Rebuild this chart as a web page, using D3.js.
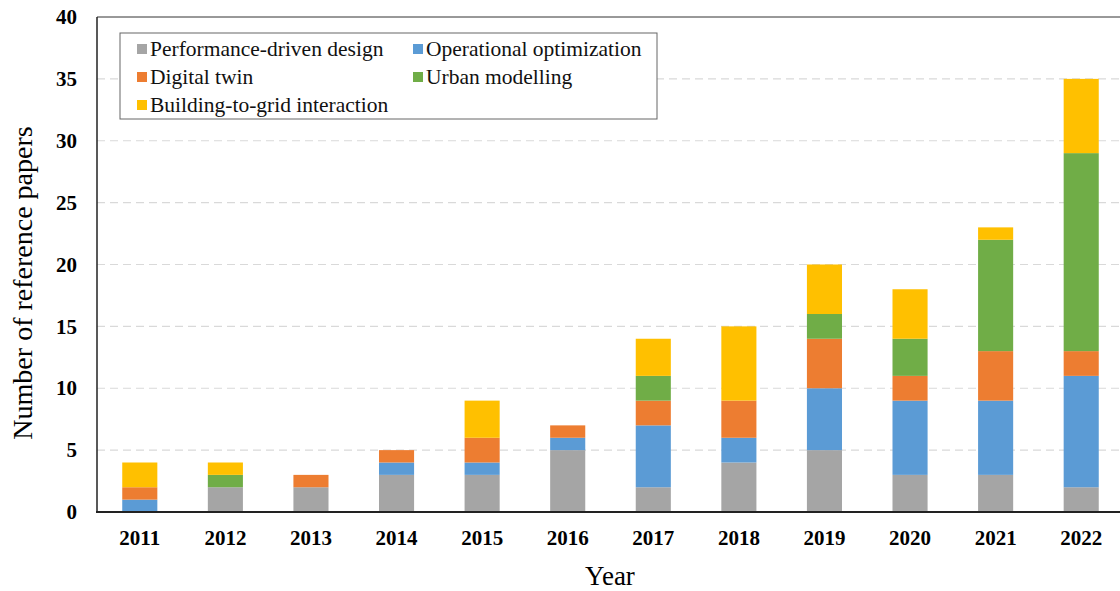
<!DOCTYPE html>
<html>
<head>
<meta charset="utf-8">
<script src="https://cdn.jsdelivr.net/npm/d3@7"></script>
<style>
  body { margin: 0; background: #fff; }
  svg text { font-family: "Liberation Serif", "Times New Roman", serif; }
</style>
</head>
<body>
<div id="chart"></div>
<script>
var years = ["2011","2012","2013","2014","2015","2016","2017","2018","2019","2020","2021","2022"];
var seriesNames = ["Performance-driven design","Operational optimization","Digital twin","Urban modelling","Building-to-grid interaction"];
var seriesColors = ["#a5a5a5","#5b9bd5","#ed7d31","#70ad47","#ffc000"];
var performance = [0,2,2,3,3,5,2,4,5,3,3,2];
var operational = [1,0,0,1,1,1,5,2,5,6,6,9];
var digitalTwin = [1,0,1,1,2,1,2,3,4,2,4,2];
var urban       = [0,1,0,0,0,0,2,0,2,3,9,16];
var gridInter   = [2,1,0,0,3,0,3,6,4,4,1,6];
var yTicks = [0,5,10,15,20,25,30,35,40];

var W = 1120, H = 591;
var margin = {top: 17, left: 97, bottom: 79};
var plotRight = 1124;

var svg = d3.select("#chart").append("svg")
  .attr("width", W)
  .attr("height", H);

var rows = years.map(function(y, i) {
  return {year: y, s0: performance[i], s1: operational[i], s2: digitalTwin[i], s3: urban[i], s4: gridInter[i]};
});
var keys = ["s0","s1","s2","s3","s4"];
var stacked = d3.stack().keys(keys)(rows);

var x = d3.scaleBand()
  .domain(years)
  .range([margin.left, plotRight])
  .paddingInner(0.59)
  .paddingOuter(0.295);

var y = d3.scaleLinear()
  .domain([0, 40])
  .range([H - margin.bottom, margin.top]);

// gridlines
svg.append("g")
  .selectAll("line")
  .data(yTicks.filter(function(t) { return t > 0 && t < 40; }))
  .enter().append("line")
  .attr("x1", margin.left)
  .attr("x2", W)
  .attr("y1", function(d) { return y(d); })
  .attr("y2", function(d) { return y(d); })
  .attr("stroke", "#d9d9d9")
  .attr("stroke-width", 1.2)
  .attr("stroke-dasharray", "8,5");

// top frame line
svg.append("line")
  .attr("x1", margin.left).attr("x2", W)
  .attr("y1", y(40)).attr("y2", y(40))
  .attr("stroke", "#333").attr("stroke-width", 1);

// bars
svg.append("g")
  .selectAll("g")
  .data(stacked)
  .enter().append("g")
  .attr("fill", function(d, i) { return seriesColors[i]; })
  .selectAll("rect")
  .data(function(d) { return d; })
  .enter().append("rect")
  .attr("x", function(d) { return x(d.data.year); })
  .attr("width", x.bandwidth())
  .attr("y", function(d) { return y(d[1]); })
  .attr("height", function(d) { return y(d[0]) - y(d[1]); });

// y axis
var yAxis = svg.append("g")
  .attr("transform", "translate(" + margin.left + ",0)")
  .call(d3.axisLeft(y).tickValues(yTicks).tickSize(0).tickPadding(20));
yAxis.select(".domain").remove();
yAxis.selectAll("text")
  .attr("font-family", "Liberation Serif")
  .attr("font-size", 21)
  .attr("font-weight", "bold")
  .attr("fill", "#000");

svg.append("line")
  .attr("x1", margin.left).attr("x2", margin.left)
  .attr("y1", y(40)).attr("y2", y(0))
  .attr("stroke", "#222").attr("stroke-width", 1.5);

// x axis
var xAxis = svg.append("g")
  .attr("transform", "translate(0," + y(0) + ")")
  .call(d3.axisBottom(x).tickSize(0).tickPadding(18));
xAxis.select(".domain").remove();
xAxis.selectAll("text")
  .attr("font-family", "Liberation Serif")
  .attr("font-size", 21)
  .attr("font-weight", "bold")
  .attr("fill", "#000");

svg.append("line")
  .attr("x1", margin.left - 1).attr("x2", W)
  .attr("y1", y(0)).attr("y2", y(0))
  .attr("stroke", "#222").attr("stroke-width", 2);

// axis titles
svg.append("text")
  .attr("x", 610).attr("y", 585)
  .attr("text-anchor", "middle")
  .attr("font-size", 27)
  .text("Year");

svg.append("text")
  .attr("transform", "translate(32,283) rotate(-90)")
  .attr("text-anchor", "middle")
  .attr("font-size", 28)
  .text("Number of reference papers");

// legend
var legend = svg.append("g");
legend.append("rect")
  .attr("x", 120).attr("y", 33)
  .attr("width", 537).attr("height", 86)
  .attr("fill", "#fff")
  .attr("stroke", "#666").attr("stroke-width", 1);

var legendPos = [[137, 49], [413, 49], [137, 77], [413, 77], [137, 105]];
var legendItems = legend.selectAll("g.item")
  .data(seriesNames)
  .enter().append("g")
  .attr("class", "item")
  .attr("transform", function(d, i) { return "translate(" + legendPos[i][0] + "," + legendPos[i][1] + ")"; });
legendItems.append("rect")
  .attr("x", 0).attr("y", -5)
  .attr("width", 10).attr("height", 10)
  .attr("fill", function(d, i) { return seriesColors[i]; });
legendItems.append("text")
  .attr("x", 13).attr("y", 7)
  .attr("font-size", 21.5)
  .attr("fill", "#111")
  .text(function(d) { return d; });
</script>
</body>
</html>
